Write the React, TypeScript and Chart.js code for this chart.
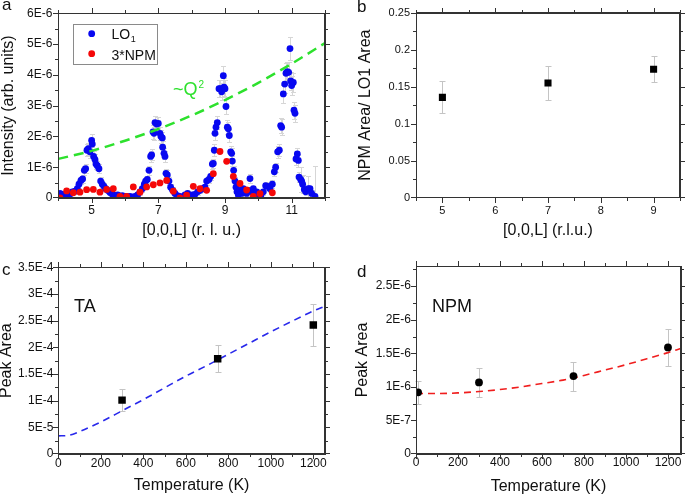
import React, { useEffect, useRef } from 'react';
import { Chart, registerables } from 'chart.js';

Chart.register(...registerables);

const FONT = '"Liberation Sans", Arial, Helvetica, sans-serif';
Chart.defaults.font.family = FONT;

// ---------------- Panel a (intensity in units of 1E-6) ----------------
const aLO1L = [4.05, 4.12, 4.2, 4.28, 4.35, 4.42, 4.5, 4.57, 4.62, 4.68, 4.73, 4.78, 4.82, 4.86, 4.9, 4.95, 5.0, 5.02, 5.06, 5.1, 5.13, 5.17, 5.22, 5.27, 5.32, 5.37, 5.42, 5.48, 5.55, 5.62, 5.7, 5.78, 5.85, 5.92, 6.0, 6.08, 6.15, 6.22, 6.3, 6.38, 6.45, 6.52, 6.58, 6.62, 6.67, 6.72, 6.77, 6.8, 6.84, 6.87, 6.9, 6.95, 7.0, 7.05, 7.08, 7.12, 7.13, 7.17, 7.2, 7.23, 7.27, 7.32, 7.37, 7.43, 7.5, 7.57, 7.65, 7.72, 7.8, 7.88, 7.95, 8.02, 8.1, 8.18, 8.25, 8.32, 8.4, 8.45, 8.52, 8.57, 8.62, 8.65, 8.68, 8.7, 8.73, 8.77, 8.82, 8.86, 8.9, 8.95, 8.97, 9.0, 9.03, 9.07, 9.1, 9.13, 9.17, 9.2, 9.22, 9.26, 9.3, 9.33, 9.36, 9.4, 9.45, 9.5, 9.55, 9.6, 9.65, 9.7, 9.75, 9.8, 9.85, 9.9, 9.95, 10.0, 10.08, 10.15, 10.22, 10.28, 10.35, 10.42, 10.48, 10.52, 10.58, 10.63, 10.67, 10.7, 10.75, 10.79, 10.83, 10.87, 10.91, 10.95, 10.97, 11.0, 11.05, 11.07, 11.1, 11.13, 11.17, 11.2, 11.22, 11.27, 11.3, 11.33, 11.38, 11.42, 11.5, 11.55, 11.6, 11.7];
const aLO1I = [0.15, 0.12, 0.1, 0.08, 0.12, 0.2, 0.22, 0.3, 0.45, 0.57, 0.62, 0.9, 0.95, 1.55, 1.6, 1.5, 1.87, 1.75, 1.35, 1.25, 1.1, 1.05, 0.95, 0.55, 0.45, 0.38, 0.3, 0.25, 0.18, 0.12, 0.08, 0.1, 0.05, 0.08, 0.05, 0.04, 0.05, 0.03, 0.05, 0.1, 0.2, 0.3, 0.45, 0.55, 0.6, 0.9, 1.35, 1.4, 2.15, 2.1, 2.45, 2.4, 2.42, 2.1, 2.0, 1.95, 1.65, 1.45, 1.35, 0.8, 0.75, 0.55, 0.35, 0.25, 0.15, 0.08, 0.05, 0.03, 0.1, 0.15, 0.08, 0.1, 0.12, 0.2, 0.25, 0.3, 0.35, 0.55, 0.6, 0.7, 1.1, 1.12, 1.55, 2.1, 2.3, 2.45, 3.55, 3.55, 3.45, 3.97, 3.6, 3.55, 2.97, 2.3, 2.25, 2.03, 1.5, 1.45, 1.2, 0.9, 0.55, 0.35, 0.2, 0.1, 0.25, 0.15, 0.3, 0.2, 0.15, 0.25, 0.63, 0.2, 0.3, 0.1, 0.2, 0.05, 0.1, 0.2, 0.4, 0.38, 0.3, 0.45, 0.85, 1.0, 1.5, 1.55, 2.35, 2.3, 3.38, 3.7, 4.05, 4.1, 4.08, 4.85, 3.8, 3.65, 3.75, 2.85, 2.75, 1.27, 1.43, 1.22, 0.68, 0.6, 0.55, 0.45, 0.28, 0.2, 0.3, 0.3, 0.15, 0.05];
const aLO1Err = [0.08, 0.08, 0.08, 0.08, 0.08, 0.1, 0.1, 0.1, 0.12, 0.12, 0.12, 0.15, 0.15, 0.2, 0.2, 0.2, 0.2, 0.2, 0.18, 0.18, 0.15, 0.15, 0.15, 0.12, 0.12, 0.1, 0.1, 0.1, 0.08, 0.08, 0.08, 0.08, 0.08, 0.08, 0.08, 0.08, 0.08, 0.08, 0.08, 0.08, 0.1, 0.1, 0.12, 0.12, 0.12, 0.15, 0.18, 0.18, 0.22, 0.22, 0.22, 0.22, 0.22, 0.22, 0.2, 0.2, 0.2, 0.18, 0.18, 0.15, 0.15, 0.12, 0.1, 0.1, 0.08, 0.08, 0.08, 0.08, 0.08, 0.08, 0.08, 0.08, 0.08, 0.1, 0.1, 0.1, 0.1, 0.12, 0.12, 0.12, 0.15, 0.15, 0.2, 0.22, 0.22, 0.22, 0.28, 0.28, 0.28, 0.3, 0.28, 0.28, 0.25, 0.22, 0.22, 0.2, 0.2, 0.18, 0.15, 0.15, 0.12, 0.1, 0.1, 0.08, 0.1, 0.08, 0.1, 0.1, 0.08, 0.1, 0.15, 0.1, 0.1, 0.08, 0.1, 0.08, 0.08, 0.1, 0.12, 0.12, 0.1, 0.12, 0.15, 0.15, 0.2, 0.2, 0.25, 0.25, 0.3, 0.3, 0.32, 0.32, 0.32, 0.37, 0.3, 0.3, 0.3, 0.28, 0.28, 0.2, 0.2, 0.2, 0.15, 0.4, 0.15, 0.3, 0.12, 0.1, 0.4, 0.1, 0.1, 1.0];
const aNPML = [4.05, 4.25, 4.45, 4.65, 4.85, 5.05, 5.25, 5.45, 5.65, 5.85, 6.05, 6.25, 6.45, 6.65, 6.85, 7.05, 7.25, 7.45, 7.65, 7.85, 8.05, 8.25, 8.45, 8.65, 8.85, 9.05, 9.25, 9.45, 9.65, 9.85, 10.05, 10.42];
const aNPMI = [0.0, 0.23, 0.17, 0.19, 0.27, 0.28, 0.19, 0.28, 0.3, 0.05, 0.05, 0.36, 0.19, 0.36, 0.43, 0.49, 0.57, 0.22, 0.0, 0.09, 0.38, 0.3, 0.25, 0.79, 1.51, 1.19, 0.7, 0.47, 0.26, 0.05, 0.14, 0.17];
const aQ2L = [4, 5, 6, 7, 8, 9, 10, 11, 12];
const aQ2I = [1.27, 1.53, 1.86, 2.24, 2.68, 3.18, 3.74, 4.36, 5.03];
const aXTicks = [5, 7, 9, 11];
const aXTickLabels = ['5', '7', '9', '11'];
const aYTicks = [0, 1, 2, 3, 4, 5, 6];
const aYTickLabels = ['0', '1E-6', '2E-6', '3E-6', '4E-6', '5E-6', '6E-6'];

// ---------------- Panel b ----------------
const bL = [5, 7, 9];
const bRatio = [0.1355, 0.155, 0.1735];
const bErr = [0.0215, 0.0235, 0.0175];
const bXTicks = [5, 6, 7, 8, 9];
const bXTickLabels = ['5', '6', '7', '8', '9'];
const bYTicks = [0, 0.05, 0.1, 0.15, 0.2, 0.25];
const bYTickLabels = ['0', '0.05', '0.1', '0.15', '0.2', '0.25'];

// ---------------- Panel c (peak area in units of 1E-4) ----------------
const cT = [300, 750, 1200];
const cArea = [1.01, 1.785, 2.42];
const cErr = [0.21, 0.25, 0.4];
const cFitT = [0, 50, 100, 200, 300, 400, 500, 600, 700, 800, 900, 1000, 1100, 1200, 1255];
const cFitA = [0.34, 0.35, 0.42, 0.6, 0.81, 1.02, 1.24, 1.46, 1.66, 1.87, 2.08, 2.29, 2.49, 2.68, 2.77];
const cXTicks = [0, 200, 400, 600, 800, 1000, 1200];
const cXTickLabels = ['0', '200', '400', '600', '800', '1000', '1200'];
const cYTicks = [0, 0.5, 1, 1.5, 2, 2.5, 3, 3.5];
const cYTickLabels = ['0', '5E-5', '1E-4', '1.5E-4', '2E-4', '2.5E-4', '3E-4', '3.5E-4'];

// ---------------- Panel d (peak area in units of 1E-6) ----------------
const dT = [10, 300, 750, 1200];
const dArea = [0.918, 1.066, 1.16, 1.587];
const dErr = [0.17, 0.22, 0.215, 0.27];
const dFitT = [0, 100, 200, 300, 400, 500, 600, 700, 800, 900, 1000, 1100, 1200, 1260];
const dFitA = [0.9, 0.9, 0.91, 0.93, 0.96, 1.0, 1.05, 1.1, 1.17, 1.25, 1.33, 1.42, 1.51, 1.57];
const dXTicks = [0, 200, 400, 600, 800, 1000, 1200];
const dXTickLabels = ['0', '200', '400', '600', '800', '1000', '1200'];
const dYTicks = [0, 0.5, 1, 1.5, 2, 2.5];
const dYTickLabels = ['0', '5E-7', '1E-6', '1.5E-6', '2E-6', '2.5E-6'];

const pts = (xs: number[], ys: number[]) => xs.map((x, i) => ({ x, y: ys[i] }));

type Axis = { min: number; max: number; ticks: number[]; labels: string[]; title: string; pad: number; titlePad: number; size: number };
type Spec = {
  canvas: { left: number; top: number; w: number; h: number };
  area: { left: number; top: number; right: number; bottom: number };
  x: Axis;
  y: Axis;
  datasets: any[];
  decorate: (ctx: CanvasRenderingContext2D, chart: any) => void;
};

const FRAME = '#333';

function minorsOf(ticks: number[], min: number, max: number) {
  const out: number[] = [];
  const step = ticks[1] - ticks[0];
  const all = [ticks[0] - step, ...ticks, ticks[ticks.length - 1] + step];
  for (let i = 0; i < all.length - 1; i++) {
    const m = (all[i] + all[i + 1]) / 2;
    if (m >= min - 1e-9 && m <= max + 1e-9) out.push(m);
  }
  return out;
}

const errorBarPlugin = {
  id: 'errbars',
  beforeDatasetsDraw(chart: any) {
    const ctx = chart.ctx as CanvasRenderingContext2D;
    const xs = chart.scales.x;
    const ys = chart.scales.y;
    chart.data.datasets.forEach((ds: any) => {
      if (!ds.errors) return;
      ctx.save();
      ctx.fillStyle = ds.errorColor || '#c4c4c4';
      const cap = ds.errorCap ?? 2.5;
      ds.data.forEach((p: any, i: number) => {
        const e = ds.errors[i];
        if (e === undefined || e === null) return;
        const x = Math.round(xs.getPixelForValue(p.x));
        const y1 = Math.round(ys.getPixelForValue(p.y + e));
        const y2 = Math.round(ys.getPixelForValue(Math.max(p.y - e, 0)));
        ctx.fillRect(x, y1, 1, y2 - y1);
        ctx.fillRect(x - cap, y1, cap * 2 + 1, 1);
        if (p.y - e > 0) ctx.fillRect(x - cap, y2, cap * 2 + 1, 1);
      });
      ctx.restore();
    });
  },
};

function overlayPlugin(spec: Spec) {
  return {
    id: 'overlay',
    afterDraw(chart: any) {
      const ctx = chart.ctx as CanvasRenderingContext2D;
      const a = chart.chartArea;
      const xs = chart.scales.x;
      const ys = chart.scales.y;
      const L = Math.round(a.left);
      const T = Math.round(a.top);
      const R = Math.round(a.right) - 1;
      const B = Math.round(a.bottom) - 1;
      ctx.save();
      ctx.fillStyle = FRAME;
      ctx.fillRect(L, T, R - L + 1, 1);
      ctx.fillRect(L, B, R - L + 1, 1);
      ctx.fillRect(L, T, 1, B - T + 1);
      ctx.fillRect(R, T, 1, B - T + 1);
      const xMaj = spec.x.ticks;
      const xMin = minorsOf(spec.x.ticks, spec.x.min, spec.x.max);
      const yMaj = spec.y.ticks;
      const yMin = minorsOf(spec.y.ticks, spec.y.min, spec.y.max);
      [[xMaj, 5], [xMin, 3]].forEach(([vals, len]: any) => {
        vals.forEach((v: number) => {
          const px = Math.round(xs.getPixelForValue(v));
          ctx.fillRect(px, B + 1, 1, len);
          ctx.fillRect(px, T - len, 1, len);
        });
      });
      [[yMaj, 5], [yMin, 3]].forEach(([vals, len]: any) => {
        vals.forEach((v: number) => {
          const py = Math.min(Math.max(Math.round(ys.getPixelForValue(v)), T), B);
          ctx.fillRect(L - len, py, len, 1);
          ctx.fillRect(R + 1, py, len, 1);
        });
      });
      ctx.restore();
      ctx.save();
      spec.decorate(ctx, chart);
      ctx.restore();
    },
  };
}

function buildConfig(spec: Spec): any {
  const { canvas, area } = spec;
  const axis = (a: Axis, horizontal: boolean) => ({
    type: 'linear',
    position: horizontal ? 'bottom' : 'left',
    min: a.min,
    max: a.max,
    afterBuildTicks: (s: any) => {
      s.ticks = a.ticks.map((v) => ({ value: v }));
    },
    afterFit: (s: any) => {
      if (horizontal) s.height = canvas.h - area.bottom;
      else s.width = area.left;
    },
    grid: { display: false, drawTicks: false, tickLength: 0 },
    border: { display: true, color: FRAME, width: 1 },
    ticks: {
      padding: a.pad,
      color: '#111',
      font: { size: a.size },
      autoSkip: false,
      maxRotation: 0,
      minRotation: 0,
      callback: (_v: any, i: number) => a.labels[i],
    },
    title: {
      display: true,
      text: a.title,
      color: '#111',
      font: { size: 16, lineHeight: 1.2 },
      padding: horizontal ? { top: 0, bottom: a.titlePad } : { top: a.titlePad, bottom: 0 },
    },
  });
  const mirror = (a: Axis, horizontal: boolean) => ({
    type: 'linear',
    position: horizontal ? 'top' : 'right',
    min: a.min,
    max: a.max,
    afterFit: (s: any) => {
      if (horizontal) s.height = 0;
      else s.width = 0;
    },
    grid: { display: false, drawTicks: false, tickLength: 0 },
    border: { display: true, color: FRAME, width: 1 },
    ticks: { display: false },
    title: { display: false },
  });
  return {
    type: 'scatter',
    data: { datasets: spec.datasets },
    options: {
      animation: false,
      responsive: false,
      devicePixelRatio: 1,
      events: [],
      layout: { padding: { left: 0, top: area.top, right: canvas.w - area.right, bottom: 0 } },
      plugins: { legend: { display: false }, tooltip: { enabled: false } },
      scales: { x: axis(spec.x, true), y: axis(spec.y, false), x2: mirror(spec.x, true), y2: mirror(spec.y, false) },
    },
    plugins: [errorBarPlugin, overlayPlugin(spec)],
  };
}

function panelLetter(ctx: CanvasRenderingContext2D, t: string, x: number, y: number) {
  ctx.fillStyle = '#111';
  ctx.font = `17px ${FONT}`;
  ctx.textBaseline = 'alphabetic';
  ctx.textAlign = 'left';
  ctx.fillText(t, x, y);
}

const BLUE = 'rgb(8,8,240)';
const RED = 'rgb(245,8,8)';
const GREEN = 'rgb(45,225,45)';

const specA: Spec = {
  canvas: { left: 0, top: 0, w: 340, h: 248 },
  area: { left: 58.3, top: 12.3, right: 325, bottom: 198 },
  x: { min: 4, max: 12, ticks: aXTicks, labels: aXTickLabels, title: '[0,0,L] (r. l. u.)', pad: 5, titlePad: 7.5, size: 12 },
  y: { min: 0, max: 6, ticks: aYTicks, labels: aYTickLabels, title: 'Intensity (arb. units)', pad: 6, titlePad: -1.5, size: 12 },
  datasets: [
    { label: '~Q2', data: pts(aQ2L, aQ2I), showLine: true, borderColor: GREEN, borderWidth: 2.5, borderDash: [10, 6], pointRadius: 0, cubicInterpolationMode: 'monotone', fill: false, order: 0 },
    { label: '3*NPM', data: pts(aNPML, aNPMI), backgroundColor: RED, borderColor: RED, borderWidth: 0, pointRadius: 3.4, order: 1 },
    { label: 'LO1', data: pts(aLO1L, aLO1I), errors: aLO1Err, errorColor: '#d6d6d6', errorCap: 2, backgroundColor: BLUE, borderColor: BLUE, borderWidth: 0, pointRadius: 3.4, order: 2 },
  ],
  decorate: (ctx) => {
    panelLetter(ctx, 'a', 2, 10);
    ctx.fillStyle = '#8a8a8a';
    ctx.fillRect(73, 24, 85, 1);
    ctx.fillRect(73, 64, 85, 1);
    ctx.fillRect(73, 24, 1, 41);
    ctx.fillRect(157, 24, 1, 41);
    ctx.fillStyle = BLUE;
    ctx.beginPath();
    ctx.arc(91.7, 33.7, 3.4, 0, Math.PI * 2);
    ctx.fill();
    ctx.fillStyle = RED;
    ctx.beginPath();
    ctx.arc(91.7, 53.7, 3.4, 0, Math.PI * 2);
    ctx.fill();
    ctx.fillStyle = '#111';
    ctx.font = `14px ${FONT}`;
    ctx.textAlign = 'left';
    ctx.textBaseline = 'alphabetic';
    ctx.fillText('LO', 111.5, 38.5);
    const w = ctx.measureText('LO').width;
    ctx.font = `9px ${FONT}`;
    ctx.fillText('1', 111.5 + w + 0.5, 42);
    ctx.font = `14px ${FONT}`;
    ctx.fillText('3*NPM', 111.5, 59.5);
    ctx.fillStyle = GREEN;
    ctx.font = `18px ${FONT}`;
    ctx.fillText('~Q', 173, 95);
    const wq = ctx.measureText('~Q').width;
    ctx.font = `10px ${FONT}`;
    ctx.fillText('2', 173 + wq + 1, 88);
  },
};

const specB: Spec = {
  canvas: { left: 340, top: 0, w: 345, h: 248 },
  area: { left: 76, top: 12.3, right: 343.3, bottom: 197.7 },
  x: { min: 4.5, max: 9.5, ticks: bXTicks, labels: bXTickLabels, title: '[0,0,L] (r.l.u.)', pad: 6.5, titlePad: 7.7, size: 11 },
  y: { min: 0, max: 0.25, ticks: bYTicks, labels: bYTickLabels, title: 'NPM Area/ LO1 Area', pad: 6, titlePad: 15.5, size: 11 },
  datasets: [
    { label: 'ratio', data: pts(bL, bRatio), errors: bErr, pointStyle: 'rect', backgroundColor: '#000', borderColor: '#000', borderWidth: 0, pointRadius: 5 },
  ],
  decorate: (ctx) => {
    panelLetter(ctx, 'b', 17, 11.7);
  },
};

const specC: Spec = {
  canvas: { left: 0, top: 248, w: 340, h: 248 },
  area: { left: 58.3, top: 19.3, right: 325, bottom: 206 },
  x: { min: 0, max: 1255, ticks: cXTicks, labels: cXTickLabels, title: 'Temperature (K)', pad: 2, titlePad: 1, size: 12 },
  y: { min: 0, max: 3.5, ticks: cYTicks, labels: cYTickLabels, title: 'Peak Area', pad: 5, titlePad: -3.5, size: 12 },
  datasets: [
    { label: 'fit', data: pts(cFitT, cFitA), showLine: true, borderColor: 'rgb(40,40,235)', borderWidth: 1.6, borderDash: [7, 5], pointRadius: 0, cubicInterpolationMode: 'monotone', fill: false, order: 1 },
    { label: 'TA', data: pts(cT, cArea), errors: cErr, pointStyle: 'rect', backgroundColor: '#000', borderColor: '#000', borderWidth: 0, pointRadius: 5.3, order: 0 },
  ],
  decorate: (ctx) => {
    panelLetter(ctx, 'c', 2, 27);
    ctx.fillStyle = '#111';
    ctx.font = `18px ${FONT}`;
    ctx.textAlign = 'left';
    ctx.textBaseline = 'alphabetic';
    ctx.fillText('TA', 74, 63.7);
  },
};

const specD: Spec = {
  canvas: { left: 340, top: 248, w: 345, h: 248 },
  area: { left: 76, top: 18, right: 343.3, bottom: 206 },
  x: { min: 0, max: 1262, ticks: dXTicks, labels: dXTickLabels, title: 'Temperature (K)', pad: 1.5, titlePad: 0, size: 12 },
  y: { min: 0, max: 2.8, ticks: dYTicks, labels: dYTickLabels, title: 'Peak Area', pad: 5, titlePad: 13, size: 12 },
  datasets: [
    { label: 'fit', data: pts(dFitT, dFitA), showLine: true, borderColor: 'rgb(240,30,30)', borderWidth: 1.6, borderDash: [7, 5], pointRadius: 0, cubicInterpolationMode: 'monotone', fill: false, order: 1 },
    { label: 'NPM', data: pts(dT, dArea), errors: dErr, pointStyle: 'circle', backgroundColor: '#000', borderColor: '#000', borderWidth: 0, pointRadius: 3.9, order: 0 },
  ],
  decorate: (ctx) => {
    panelLetter(ctx, 'd', 17, 28.5);
    ctx.fillStyle = '#111';
    ctx.font = `18px ${FONT}`;
    ctx.textAlign = 'left';
    ctx.textBaseline = 'alphabetic';
    ctx.fillText('NPM', 92, 64);
  },
};

function Panel({ spec }: { spec: Spec }) {
  const ref = useRef<HTMLCanvasElement>(null);
  useEffect(() => {
    const chart = new Chart(ref.current as HTMLCanvasElement, buildConfig(spec));
    return () => chart.destroy();
  }, [spec]);
  const { left, top, w, h } = spec.canvas;
  return (
    <canvas
      ref={ref}
      width={w}
      height={h}
      style={{ position: 'absolute', left, top, width: w, height: h }}
    />
  );
}

export default function App() {
  return (
    <div style={{ position: 'fixed', left: 0, top: 0, width: 685, height: 496, background: '#fff', overflow: 'hidden' }}>
      <Panel spec={specA} />
      <Panel spec={specB} />
      <Panel spec={specC} />
      <Panel spec={specD} />
    </div>
  );
}
